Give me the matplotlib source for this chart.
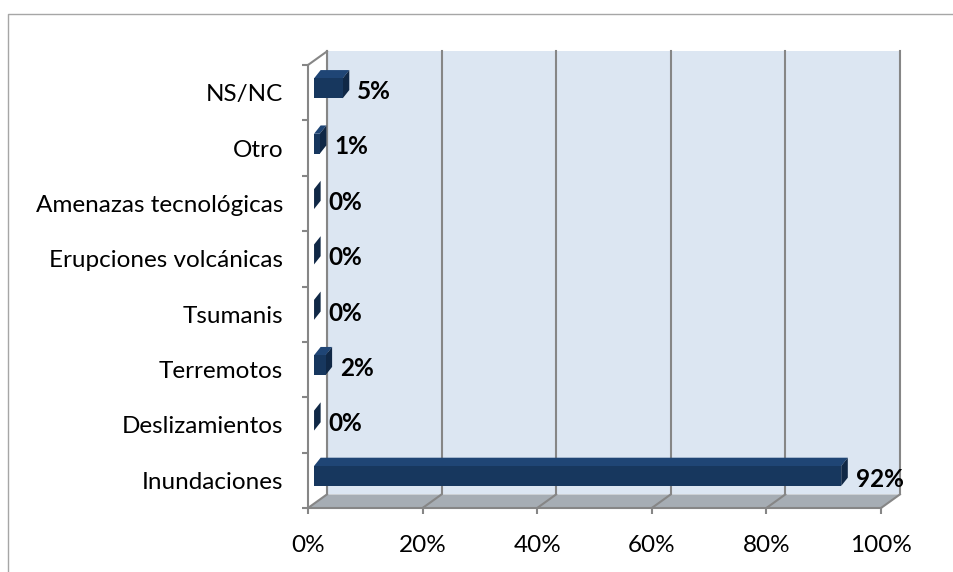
import matplotlib.pyplot as plt
from matplotlib.patches import Polygon
from matplotlib.lines import Line2D

# datos
categorias = ['Inundaciones', 'Deslizamientos', 'Terremotos', 'Tsumanis',
              'Erupciones volcánicas', 'Amenazas tecnológicas', 'Otro', 'NS/NC']
porcentajes = [92, 0, 2, 0, 0, 0, 1, 5]
ticks_x = [0, 20, 40, 60, 80, 100]

plt.rcParams['font.family'] = ['Lato', 'DejaVu Sans']

W, H = 954, 572
fig = plt.figure(figsize=(W / 100, H / 100), dpi=100)
ax = fig.add_axes([308 / W, 1 - 508 / H, 573 / W, 443 / H])
n = len(categorias)
ax.set_xlim(0, 100)
ax.set_ylim(0, n)
ax.set_facecolor('none')

gris = '#868686'
DX, DY = 3.3, 0.245      # profundidad de la caja 3D
f0 = 0.32                # posicion de la barra dentro de la profundidad
bdx, bdy = 1.15, 0.15    # profundidad de la barra
alto = 0.36

# pared de fondo
ax.add_patch(Polygon([(DX, DY), (100 + DX, DY), (100 + DX, n + DY), (DX, n + DY)],
                     fc='#dce6f2', ec='none', clip_on=False, zorder=0))
for t in ticks_x:
    ax.plot([t + DX, t + DX], [DY, n + DY], color=gris, lw=1.5, clip_on=False, zorder=1)
# piso
ax.add_patch(Polygon([(0, 0), (100, 0), (100 + DX, DY), (DX, DY)],
                     fc='#a6adb4', ec='none', clip_on=False, zorder=1))
for t in ticks_x:
    ax.plot([t, t + DX], [0, DY], color=gris, lw=1.5, clip_on=False, zorder=2)
# pared lateral
ax.add_patch(Polygon([(0, 0), (DX, DY), (DX, n + DY), (0, n)],
                     fc='white', ec='none', clip_on=False, zorder=1))
ax.plot([0, DX], [n, n + DY], color=gris, lw=1.5, clip_on=False, zorder=2)
ax.plot([DX, DX], [DY, n + DY], color=gris, lw=1.5, clip_on=False, zorder=2)

# barras 3D
for i, v in enumerate(porcentajes):
    x0 = f0 * DX
    y0 = i + 0.5 - alto / 2 + f0 * DY
    y1 = y0 + alto
    x1 = x0 + v
    ax.add_patch(Polygon([(x0, y1), (x1, y1), (x1 + bdx, y1 + bdy), (x0 + bdx, y1 + bdy)],
                         fc='#1f4575', ec='none', clip_on=False, zorder=3))
    ax.add_patch(Polygon([(x1, y0), (x1, y1), (x1 + bdx, y1 + bdy), (x1 + bdx, y0 + bdy)],
                         fc='#102846', ec='none', clip_on=False, zorder=3))
    if v > 0:
        ax.add_patch(Polygon([(x0, y0), (x1, y0), (x1, y1), (x0, y1)],
                             fc='#17375e', ec='none', clip_on=False, zorder=4))
    ax.text(x1 + 2.5, i + 0.5 + 0.02, f'{v}%', fontsize=17.5, fontweight='bold',
            ha='left', va='center', zorder=5)

# ejes
for s in ['top', 'right']:
    ax.spines[s].set_visible(False)
for s in ['bottom', 'left']:
    ax.spines[s].set_color(gris)
    ax.spines[s].set_linewidth(1.5)
    ax.spines[s].set_zorder(2)
ax.set_xticks(ticks_x)
ax.set_xticklabels([f'{t}%' for t in ticks_x])
ax.set_yticks(range(n + 1))
ax.set_yticklabels([])
ax.set_yticks([i + 0.5 for i in range(n)], minor=True)
ax.set_yticklabels(categorias, minor=True)
ax.tick_params(axis='x', length=4.5, width=1.5, color=gris, labelsize=17.5, pad=15)
ax.tick_params(axis='y', which='major', length=4, width=1.5, color=gris)
ax.tick_params(axis='y', which='minor', length=0, labelsize=17.5, pad=18)

# marco del grafico
fig.add_artist(Line2D([8 / W, 8 / W, 1], [0, 1 - 14 / H, 1 - 14 / H],
                      transform=fig.transFigure, color='#a6a6a6', lw=1))

fig.savefig('out.png', dpi=100)
